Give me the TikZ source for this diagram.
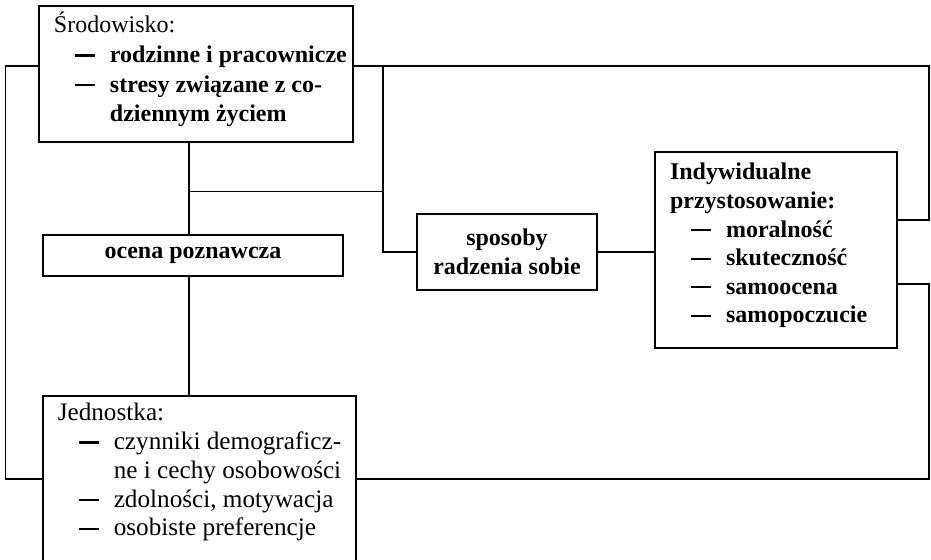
\documentclass[tikz,border=0pt]{standalone}
\usepackage{fontspec}
\setmainfont{Liberation Serif}
\usepackage{xcolor}
\usepackage{tikz}

\tikzset{
  kuang/.style={draw, line width=0.8pt, inner sep=0pt, inner xsep=7.5pt},
  lianxian/.style={line width=0.7pt}
}
% 方框内的文字: 高度, 宽度, 第一行基线, 内容
\newcommand{\tresc}[4]{\parbox[c][#1][t]{#2}{\raggedright\rule{0pt}{#3}#4}}
\newcommand{\pozycja}[1]{\mbox{\hspace*{10.5pt}\makebox[17.5pt][l]{\rule[3pt]{10pt}{1.1pt}}#1}}
\newcommand{\dalej}[1]{\mbox{\hspace*{28pt}#1}}

\begin{document}
\begin{tikzpicture}[x=0.5pt,y=-0.5pt]
            \useasboundingbox (0,0) rectangle (931,560);
            %绘制五个方框
            \node[kuang, font=\fontsize{12}{14.8}\selectfont] (S) at (196,74)
                  {\tresc{68pt}{142pt}{13.5pt}{Środowisko:\\ \textbf{\pozycja{rodzinne i pracownicze}}\\
                   \textbf{\pozycja{stresy związane z co-}}\\ \textbf{\dalej{dziennym życiem}}}};
            \node[kuang, minimum width=150pt, minimum height=20.5pt,
                  font=\fontsize{12}{14}\selectfont\bfseries] (O) at (193,255.5) {ocena poznawcza};
            \node[kuang, minimum width=90pt, minimum height=38pt, align=center,
                  font=\fontsize{12}{14.5}\selectfont\bfseries] (P) at (507,252) {sposoby\\radzenia sobie};
            \node[kuang, font=\fontsize{12}{14.3}\selectfont\bfseries] (I) at (776,250)
                  {\tresc{98pt}{106pt}{14pt}{Indywidualne\\ przystosowanie:\\ \pozycja{moralność}\\
                   \pozycja{skuteczność}\\ \pozycja{samoocena}\\ \pozycja{samopoczucie}}};
            \node[kuang, anchor=north west, font=\fontsize{12.6}{14.4}\selectfont] (J) at (42,395)
                  {\tresc{100pt}{141.5pt}{12.5pt}{Jednostka:\\ \pozycja{czynniki demograficz-}\\
                   \dalej{ne i cechy osobowości}\\ \pozycja{zdolności, motywacja}\\ \pozycja{osobiste preferencje}}};
            %绘制连线
            \draw[lianxian] ([yshift=-30.5pt]S.north west) -- ++(-16.5pt,0) |- ([yshift=-42pt]J.north west);
            \draw[lianxian] ([yshift=-42pt]J.north east) -| ([xshift=15.5pt,yshift=-66.5pt]I.north east)
                  -- ([yshift=-66.5pt]I.north east);
            \draw[lianxian] ([yshift=-30.5pt]S.north east) -| ([xshift=15.5pt,yshift=-34.5pt]I.north east)
                  -- ([yshift=-34.5pt]I.north east);
            \draw[lianxian] ([xshift=14.5pt,yshift=-30.5pt]S.north east) |- (P.west);
            \draw[lianxian] (P.east) -- (P.east -| I.west);
            \draw[lianxian] ([xshift=-3.5pt]S.south) -- ([xshift=-2pt]O.north);
            \draw[lianxian] ([xshift=-3.5pt,yshift=-24.5pt]S.south) -| ([xshift=14.5pt,yshift=-30.5pt]S.north east);
            \draw[lianxian] ([xshift=-2pt]O.south) -- ([xshift=-2pt]O.south |- J.north);
        \end{tikzpicture}
\end{document}
